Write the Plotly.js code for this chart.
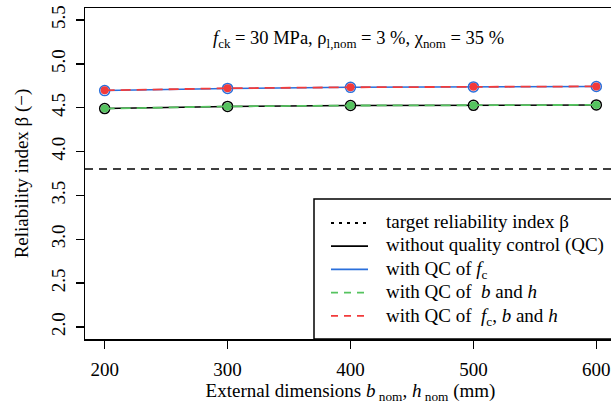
<!DOCTYPE html>
<html>
<head>
<meta charset="utf-8">
<script src="https://cdn.plot.ly/plotly-3.0.1.min.js"></script>
<style>
html,body{margin:0;padding:0;overflow:hidden;background:#fff;width:611px;height:409px;}
#plot{width:618px;height:409px;}
</style>
</head>
<body>
<div id="plot"></div>
<script>
const dims = [200, 300, 400, 500, 600];
const betaNoQC = [4.49, 4.515, 4.525, 4.527, 4.532];
const betaQCfc = [4.695, 4.72, 4.732, 4.737, 4.742];
const betaQCbh = [4.49, 4.515, 4.525, 4.527, 4.532];
const betaQCall = [4.698, 4.722, 4.733, 4.738, 4.743];
const betaTarget = 3.8;
const xTicks = [200, 300, 400, 500, 600];
const yTicks = [2.0, 2.5, 3.0, 3.5, 4.0, 4.5, 5.0, 5.5];
const legendNames = [
  'target reliability index β',
  'without quality control (QC)',
  'with QC of <i>f</i><sub>c</sub>',
  'with QC of  <i>b</i> and <i>h</i>',
  'with QC of  <i>f</i><sub>c</sub>, <i>b</i> and <i>h</i>'
];

const cBlue = '#2a6fdb', cRed = '#f23b3b', cGreen = '#55c35f', cBlack = '#000000';
const legendColors = [cBlack, cBlack, cBlue, cGreen, cRed];
const legendDashes = ['3px,5px', 'solid', 'solid', '7px,6px', '7px,6px'];
const serif = 'Liberation Serif';
const fs = 19;

// plot area geometry (pixels) for the hand-drawn legend box
const L = 85, W = 531, T = 8, H = 331;
const px = x => (x - L) / W;
const py = y => (T + H - y) / H;

const traces = [
  {x: [184, 616], y: [betaTarget, betaTarget], mode: 'lines',
   line: {color: cBlack, width: 1.5, dash: '8px,6px'}, showlegend: false, hoverinfo: 'skip'},
  {x: dims, y: betaNoQC, mode: 'lines+markers', showlegend: false,
   line: {color: cBlack, width: 1.5},
   marker: {symbol: 'circle', size: 10, color: 'rgba(0,0,0,0)', line: {color: cBlack, width: 1.5}}},
  {x: dims, y: betaQCbh, mode: 'lines+markers', showlegend: false,
   line: {color: cGreen, width: 1.8, dash: '10px,6px'},
   marker: {symbol: 'circle', size: 8, color: cGreen, line: {width: 0}}},
  {x: dims, y: betaQCfc, mode: 'lines+markers', showlegend: false,
   line: {color: cBlue, width: 1.5},
   marker: {symbol: 'circle', size: 10, color: 'rgba(0,0,0,0)', line: {color: cBlue, width: 1.5}}},
  {x: dims, y: betaQCall, mode: 'lines+markers', showlegend: false,
   line: {color: cRed, width: 1.8, dash: '10px,6px'},
   marker: {symbol: 'circle', size: 8, color: cRed, line: {width: 0}}}
];

const shapes = [
  {type: 'rect', xref: 'paper', yref: 'paper', x0: px(314), x1: px(625), y0: py(339), y1: py(199),
   line: {color: '#000', width: 1.5}, fillcolor: '#fff', layer: 'above'}
];
const annotations = [{
  xref: 'paper', yref: 'paper', x: px(358), y: py(40),
  xanchor: 'center', yanchor: 'middle', showarrow: false,
  text: '<i>f</i><sub>ck</sub> = 30 MPa, ρ<sub>l,nom</sub> = 3 %, χ<sub>nom</sub> = 35 %',
  font: {family: serif, size: 18.5, color: '#000'}
}];
legendNames.forEach((name, i) => {
  const yy = 223 + i * 23.2;
  shapes.push({type: 'line', xref: 'paper', yref: 'paper', x0: px(331), x1: px(368), y0: py(yy), y1: py(yy),
               line: {color: legendColors[i], width: 1.8, dash: legendDashes[i]}, layer: 'above'});
  const hasSub = name.indexOf('<sub>') >= 0;
  annotations.push({xref: 'paper', yref: 'paper', x: px(384), y: py(yy - 1),
                    xanchor: 'left', yanchor: hasSub ? 'top' : 'middle',
                    yshift: hasSub ? 12 : 0,
                    showarrow: false, text: name, align: 'left',
                    font: {family: serif, size: fs, color: '#000'}});
});

const layout = {
  width: 618, height: 409,
  margin: {l: L, r: 618 - L - W, t: T, b: 409 - T - H},
  paper_bgcolor: '#fff', plot_bgcolor: '#fff',
  font: {family: serif, size: fs, color: '#000'},
  showlegend: false,
  xaxis: {range: [184, 616], tickvals: xTicks, ticktext: xTicks.map(String),
          showgrid: false, zeroline: false, showline: true, mirror: true,
          linecolor: '#000', linewidth: 1.5, ticks: 'outside', ticklen: 8, tickwidth: 1.5,
          tickcolor: '#000', ticklabelstandoff: 5, tickfont: {family: serif, size: fs},
          title: {text: 'External dimensions <i>b</i><sub> nom</sub>, <i>h</i><sub> nom</sub> (mm)',
                  font: {family: serif, size: fs}, standoff: 2}},
  yaxis: {range: [1.863, 5.637], tickvals: yTicks, ticktext: yTicks.map(v => v.toFixed(1)),
          tickangle: -90,
          showgrid: false, zeroline: false, showline: true, mirror: true,
          linecolor: '#000', linewidth: 1.5, ticks: 'outside', ticklen: 8, tickwidth: 1.5,
          tickcolor: '#000', ticklabelstandoff: 3, tickfont: {family: serif, size: fs},
          title: {text: 'Reliability index β (−)', font: {family: serif, size: fs}, standoff: 14}},
  shapes: shapes,
  annotations: annotations
};

Plotly.newPlot('plot', traces, layout, {displayModeBar: false, staticPlot: true});
</script>
</body>
</html>
